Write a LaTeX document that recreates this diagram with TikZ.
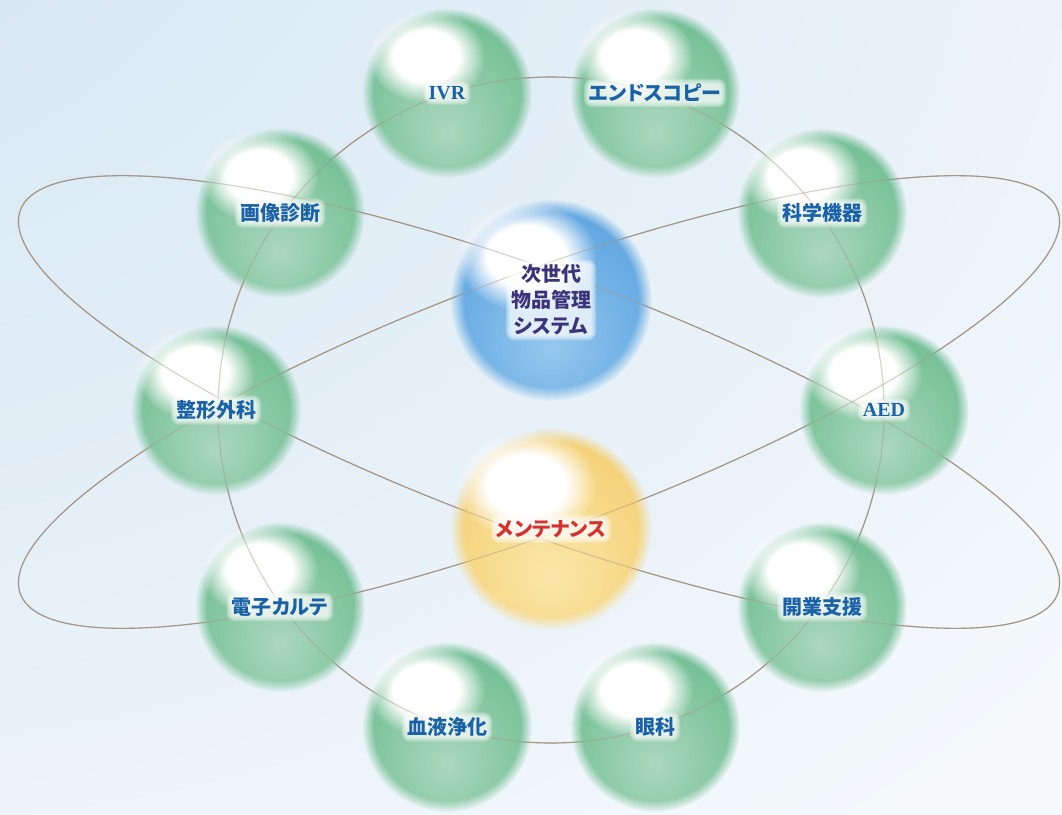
\documentclass[tikz,border=0pt]{standalone}
\usepackage{fontspec}
\usetikzlibrary{fadings,calc}
\newfontfamily\jp[RawFeature=+palt]{Noto Sans CJK JP}
\newfontfamily\lat{Liberation Serif}
\definecolor{bg0}{RGB}{204,226,241}
\definecolor{bg1}{RGB}{228,239,247}
\definecolor{orbitc}{RGB}{165,149,133}
\definecolor{gL}{RGB}{172,215,190}
\definecolor{gM}{RGB}{128,197,158}
\definecolor{gD}{RGB}{84,176,126}
\definecolor{bL}{RGB}{150,200,238}
\definecolor{bM}{RGB}{108,174,228}
\definecolor{bD}{RGB}{66,146,214}
\definecolor{yL}{RGB}{250,231,170}
\definecolor{yM}{RGB}{246,214,130}
\definecolor{yD}{RGB}{239,195,92}
\definecolor{lblue}{RGB}{25,98,168}
\definecolor{indigo}{RGB}{60,52,122}
\definecolor{lred}{RGB}{215,48,48}
\pgfdeclarelayer{halo}
\pgfdeclarelayer{txt}
\pgfsetlayers{main,halo,txt}
\pgfdeclareradialshading{bgshade}{\pgfpoint{-50bp}{50bp}}{color(0bp)=(bg0); color(45bp)=(bg1); color(85bp)=(white); color(160bp)=(white)}
\pgfdeclareradialshading{gball}{\pgfpoint{0bp}{-12bp}}{color(0bp)=(gL); color(22bp)=(gM); color(50bp)=(gD); color(70bp)=(gD)}
\pgfdeclareradialshading{bball}{\pgfpoint{0bp}{-12bp}}{color(0bp)=(bL); color(22bp)=(bM); color(50bp)=(bD); color(70bp)=(bD)}
\pgfdeclareradialshading{yball}{\pgfpoint{0bp}{-12bp}}{color(0bp)=(yL); color(22bp)=(yM); color(50bp)=(yD); color(70bp)=(yD)}
\pgfdeclareradialshading{edgefadeshade}{\pgfpointorigin}{color(0bp)=(pgftransparent!0); color(21.5bp)=(pgftransparent!0); color(25bp)=(pgftransparent!100); color(50bp)=(pgftransparent!100)}
\pgfdeclarefading{edgefade}{\pgfuseshading{edgefadeshade}}
\pgfdeclareradialshading{blobshade}{\pgfpointorigin}{color(0bp)=(pgftransparent!0); color(14bp)=(pgftransparent!0); color(25bp)=(pgftransparent!100); color(50bp)=(pgftransparent!100)}
\pgfdeclarefading{blob}{\pgfuseshading{blobshade}}
\newcommand{\drawOrbits}[1]{%
  \draw[#1] (ringc) circle[radius=333pt];
  \draw[#1, rotate around={-20.3:(ellc)}] (ellc) ellipse[x radius=553pt, y radius=128pt];
  \draw[#1, rotate around={20.3:(ellc)}] (ellc) ellipse[x radius=553pt, y radius=128pt];
}
\newcommand{\sphere}[5]{%
  \coordinate (#1) at (#2,#3);
  \shade[shading=#5, path fading=edgefade] (#1) circle[radius={#4*1.06pt}];
  \fill[white, path fading=blob] ($(#1)+({-0.26*#4},{-0.46*#4})$) ellipse[x radius={0.74*#4*1pt}, y radius={0.58*#4*1pt}];
}
\newcommand{\glowlabel}[4]{%
  \begin{pgfonlayer}{txt}
    \node[lbl, text=#3] (#1) at (#2) {#4};
  \end{pgfonlayer}
  \begin{pgfonlayer}{halo}
    \foreach \e in {0,1.2,2.4,3.6,4.8}
      {\fill[white, opacity=0.24, rounded corners={(\e+3)*1pt}] ($(#1.south west)+(-\e,\e)$) rectangle ($(#1.north east)+(\e,-\e)$);}
  \end{pgfonlayer}
}
\begin{document}
\begin{tikzpicture}[x=1pt,y=-1pt,
  orbit/.style={draw=orbitc, line width=1.1pt},
  lbl/.style={inner sep=0pt, align=center, font=\jp\bfseries\fontsize{20}{26}\selectfont}]
\useasboundingbox (0,0) rectangle (1062,814);
\fill[white] (0,0) rectangle (1062,814);
\shade[shading=bgshade] (0,0) rectangle (1062,814);
\coordinate (ringc) at (551,410);
\coordinate (ellc) at (539,402);
\drawOrbits{orbit}
\sphere{ivr}{447}{93}{80}{gball}
\sphere{endo}{655}{93}{80}{gball}
\sphere{kagaku}{822}{213}{80}{gball}
\sphere{aed}{884}{410}{80}{gball}
\sphere{kaigyo}{822}{607}{80}{gball}
\sphere{ganka}{655}{727}{80}{gball}
\sphere{ketsu}{447}{727}{80}{gball}
\sphere{denshi}{280}{607}{80}{gball}
\sphere{seikei}{216}{410}{80}{gball}
\sphere{gazo}{280}{213}{80}{gball}
\sphere{jisedai}{551}{300}{95}{bball}
\sphere{mente}{551}{529}{95}{yball}
\drawOrbits{orbit, draw opacity=0.45}
\glowlabel{ivrL}{ivr}{lblue}{\lat\bfseries IVR}
\glowlabel{endoL}{endo}{lblue}{エンドスコピー}
\glowlabel{kagakuL}{kagaku}{lblue}{科学機器}
\glowlabel{aedL}{aed}{lblue}{\lat\bfseries AED}
\glowlabel{kaigyoL}{kaigyo}{lblue}{開業支援}
\glowlabel{gankaL}{ganka}{lblue}{眼科}
\glowlabel{ketsuL}{ketsu}{lblue}{血液浄化}
\glowlabel{denshiL}{denshi}{lblue}{電子カルテ}
\glowlabel{seikeiL}{seikei}{lblue}{整形外科}
\glowlabel{gazoL}{gazo}{lblue}{画像診断}
\glowlabel{jisedaiL}{jisedai}{indigo}{次世代\\物品管理\\システム}
\glowlabel{menteL}{mente}{lred}{メンテナンス}
\end{tikzpicture}
\end{document}
